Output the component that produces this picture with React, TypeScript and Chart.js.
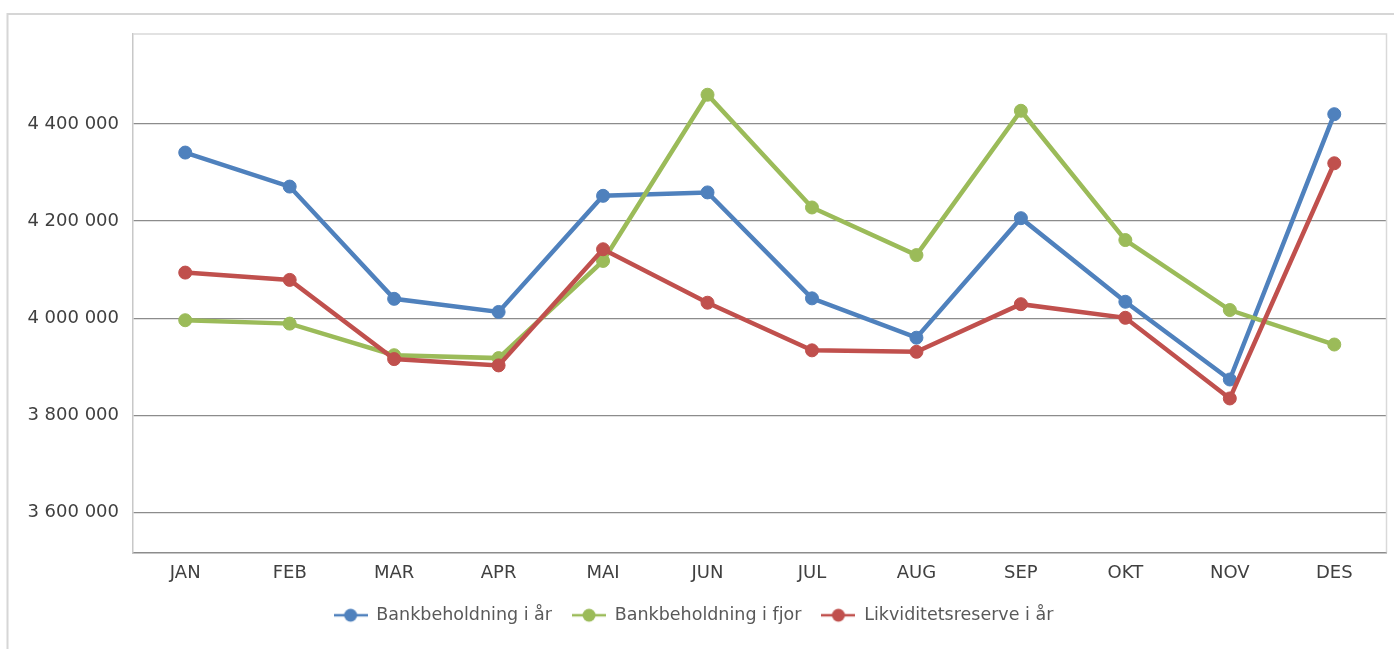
import React, { useEffect, useRef } from "react";
import { Chart, registerables } from "chart.js";

Chart.register(...registerables);

const months = ["JAN", "FEB", "MAR", "APR", "MAI", "JUN", "JUL", "AUG", "SEP", "OKT", "NOV", "DES"];
const bankIAar = [4341000, 4271000, 4040000, 4013000, 4252000, 4259000, 4041000, 3960000, 4206000, 4034000, 3874000, 4420000];
const bankIFjor = [3996000, 3989000, 3924000, 3918000, 4118000, 4460000, 4228000, 4130000, 4427000, 4161000, 4017000, 3946000];
const likviditet = [4094000, 4079000, 3916000, 3903000, 4142000, 4032000, 3934000, 3931000, 4029000, 4001000, 3835000, 4319000];
const yTicks = [3600000, 3800000, 4000000, 4200000, 4400000];
const yMin = 3518000;
const yMax = 4585000;

const seriesNames = ["Bankbeholdning i år", "Bankbeholdning i fjor", "Likviditetsreserve i år"];
const seriesColors = ["#4F81BD", "#9BBB59", "#C0504D"];

function makeMarker(color: string) {
  const c = document.createElement("canvas");
  c.width = 34;
  c.height = 16;
  const ctx = c.getContext("2d")!;
  ctx.strokeStyle = color;
  ctx.lineWidth = 2.5;
  ctx.beginPath();
  ctx.moveTo(0, 8);
  ctx.lineTo(34, 8);
  ctx.stroke();
  ctx.fillStyle = color;
  ctx.beginPath();
  ctx.arc(17, 8, 6.5, 0, Math.PI * 2);
  ctx.fill();
  return c;
}

const fmt = (v: number) => String(Math.round(v)).replace(/\B(?=(\d{3})+(?!\d))/g, " ");

const framePlugin = {
  id: "frame",
  beforeDraw(chart: any) {
    const ctx = chart.ctx;
    ctx.save();
    ctx.fillStyle = "#ffffff";
    ctx.fillRect(0, 0, chart.width, chart.height);
    ctx.strokeStyle = "#d6d6d6";
    ctx.lineWidth = 2;
    ctx.beginPath();
    ctx.moveTo(7.5, chart.height);
    ctx.lineTo(7.5, 14);
    ctx.lineTo(chart.width, 14);
    ctx.stroke();
    ctx.restore();
  },
  beforeDatasetsDraw(chart: any) {
    const { ctx, chartArea } = chart;
    ctx.save();
    ctx.strokeStyle = "#d9d9d9";
    ctx.lineWidth = 1.5;
    ctx.beginPath();
    ctx.moveTo(chartArea.left, chartArea.top);
    ctx.lineTo(chartArea.right, chartArea.top);
    ctx.lineTo(chartArea.right, chartArea.bottom);
    ctx.stroke();
    ctx.restore();
  },
};

export default function App() {
  const ref = useRef<HTMLCanvasElement | null>(null);
  useEffect(() => {
    if (!ref.current) return;
    const data = [bankIAar, bankIFjor, likviditet];
    const chart = new Chart(ref.current, {
      type: "line",
      data: {
        labels: months,
        datasets: data.map((d, i) => ({
          label: seriesNames[i],
          data: d,
          borderColor: seriesColors[i],
          backgroundColor: seriesColors[i],
          pointBackgroundColor: seriesColors[i],
          pointBorderColor: seriesColors[i],
          borderWidth: 4.5,
          pointRadius: 6.5,
          pointBorderWidth: 1,
          tension: 0,
          pointStyle: "circle",
          order: 3 - i,
        })),
      },
      options: {
        animation: false,
        responsive: false,
        layout: { padding: { left: 0, top: 34, right: 7, bottom: 15 } },
        plugins: {
          tooltip: { enabled: false },
          legend: {
            position: "bottom",
            labels: {
              usePointStyle: true,
              pointStyleWidth: 34,
              padding: 20,
              color: "#595959",
              font: { family: "DejaVu Sans", size: 17.5 },
              sort: (a: any, b: any) => a.datasetIndex - b.datasetIndex,
              generateLabels: (ch: any) =>
                ch.data.datasets.map((ds: any, i: number) => ({
                  text: ds.label,
                  pointStyle: makeMarker(seriesColors[i]),
                  fillStyle: seriesColors[i],
                  strokeStyle: seriesColors[i],
                  lineWidth: 0,
                  datasetIndex: i,
                  hidden: false,
                  fontColor: "#595959",
                })),
            },
          },
        },
        scales: {
          x: {
            offset: true,
            grid: { display: false, drawTicks: false },
            border: { display: true, color: "#8c8c8c", width: 1.5 },
            ticks: {
              color: "#404040",
              font: { family: "DejaVu Sans", size: 18 },
              padding: 10,
              maxRotation: 0,
            },
            afterFit: (s: any) => {
              s.height = 34;
            },
          },
          y: {
            min: yMin,
            max: yMax,
            grid: { color: "#8c8c8c", lineWidth: 1.2, drawTicks: false },
            border: { display: true, color: "#c8c8c8", width: 1.5 },
            afterBuildTicks: (s: any) => {
              s.ticks = yTicks.map((v) => ({ value: v }));
            },
            ticks: {
              color: "#404040",
              font: { family: "DejaVu Sans", size: 18 },
              padding: 14,
              callback: (v: any) => fmt(Number(v)),
            },
            afterFit: (s: any) => {
              s.width = 133;
            },
          },
        },
      },
      plugins: [framePlugin],
    } as any);
    return () => chart.destroy();
  }, []);
  return (
    <div style={{ position: "fixed", left: 0, top: 0, width: 1394, height: 649 }}>
      <canvas ref={ref} width={1394} height={649} style={{ width: 1394, height: 649 }} />
    </div>
  );
}
